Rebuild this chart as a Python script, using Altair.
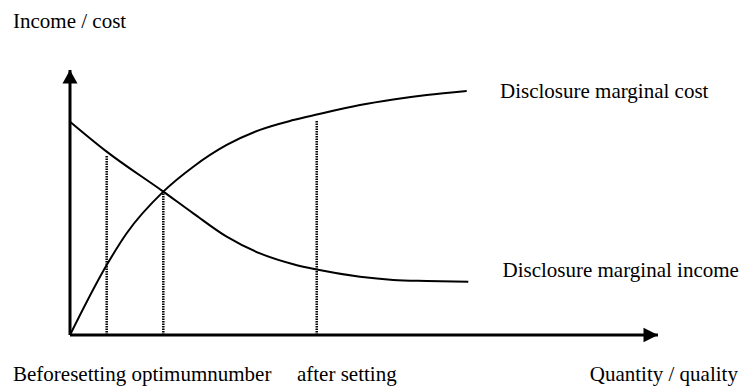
import altair as alt
import pandas as pd

# ---- data (x = quantity/quality, y = income/cost, 0..100 = arrow tips)
income_x = [0, 6.24, 15.87, 20.97, 26.65, 32.31, 37.98, 41.96, 49.32, 54.98, 60.66, 67.74]
income_y = [80.5, 69.2, 54.1, 45.9, 37.1, 30.8, 26.7, 24.7, 22.0, 20.8, 20.4, 20.1]
cost_x = [0, 6.24, 9.64, 15.87, 20.97, 26.65, 32.31, 37.98, 41.96, 49.32, 54.98, 60.66, 67.47]
cost_y = [0, 26.4, 38.4, 54.1, 63.5, 71.7, 77.4, 81.1, 83.2, 86.8, 88.9, 90.6, 92.1]

drop_x = [6.24, 15.87, 41.96]
drop_top = [67.5, 54.1, 81.1]

axis_x_end = 100
axis_y_end = 100

label_text = ["Income / cost", "Disclosure marginal cost", "Disclosure marginal income",
              "Beforesetting optimumnumber", "after setting", "Quantity / quality"]
label_x = [-9.69, 73.13, 73.55, -9.69, 38.6, 88.4]
label_y = [115.7, 89.4, 22.0, -17.36, -17.36, -17.36]

# ---- tables
curves = pd.concat([
    pd.DataFrame({"x": income_x, "y": income_y, "series": "income"}),
    pd.DataFrame({"x": cost_x, "y": cost_y, "series": "cost"}),
])
drops = pd.DataFrame({"x": drop_x, "y": [0] * len(drop_x), "y2": drop_top})
axes = pd.DataFrame({"x": [0, 0], "y": [0, 0], "x2": [axis_x_end, 0], "y2": [0, axis_y_end]})
tip_up = pd.DataFrame({"x": [0], "y": [axis_y_end]})
tip_right = pd.DataFrame({"x": [axis_x_end], "y": [0]})
labels = pd.DataFrame({"text": label_text, "x": label_x, "y": label_y})

xs = alt.Scale(domain=[-10.544, 114.116], nice=False, zero=False)
ys = alt.Scale(domain=[-19.245, 123.396], nice=False, zero=False)
X = lambda f="x": alt.X(f"{f}:Q", scale=xs, axis=None)
Y = lambda f="y": alt.Y(f"{f}:Q", scale=ys, axis=None)

lines = alt.Chart(curves).mark_line(color="black", strokeWidth=2, interpolate="monotone").encode(
    x=X(), y=Y(), detail="series:N", order="x:Q"
)
drop_rules = alt.Chart(drops).mark_rule(color="black", strokeWidth=2.5, strokeDash=[1.5, 1]).encode(
    x=X(), y=Y(), y2="y2:Q"
)
axis_rules = alt.Chart(axes).mark_rule(color="black", strokeWidth=3).encode(
    x=X(), y=Y(), x2="x2:Q", y2="y2:Q"
)
arrow_up = alt.Chart(tip_up).mark_point(
    shape="M0,0L-1,1.8L1,1.8Z", size=225, filled=True, color="black", opacity=1
).encode(x=X(), y=Y())
arrow_right = alt.Chart(tip_right).mark_point(
    shape="M0,0L-2,-1L-2,1Z", size=210, filled=True, color="black", opacity=1
).encode(x=X(), y=Y())
texts = alt.Chart(labels).mark_text(
    font="Liberation Serif", fontSize=21, color="black", align="left", baseline="alphabetic"
).encode(x=X(), y=Y(), text="text:N")

chart = alt.layer(axis_rules, drop_rules, lines, arrow_up, arrow_right, texts).properties(
    width=733, height=378, autosize=alt.AutoSizeParams(type="none"), padding=0,
    background="white"
).configure_view(stroke=None)

chart.save("out.html", embed_options={"renderer": "svg", "actions": False})
